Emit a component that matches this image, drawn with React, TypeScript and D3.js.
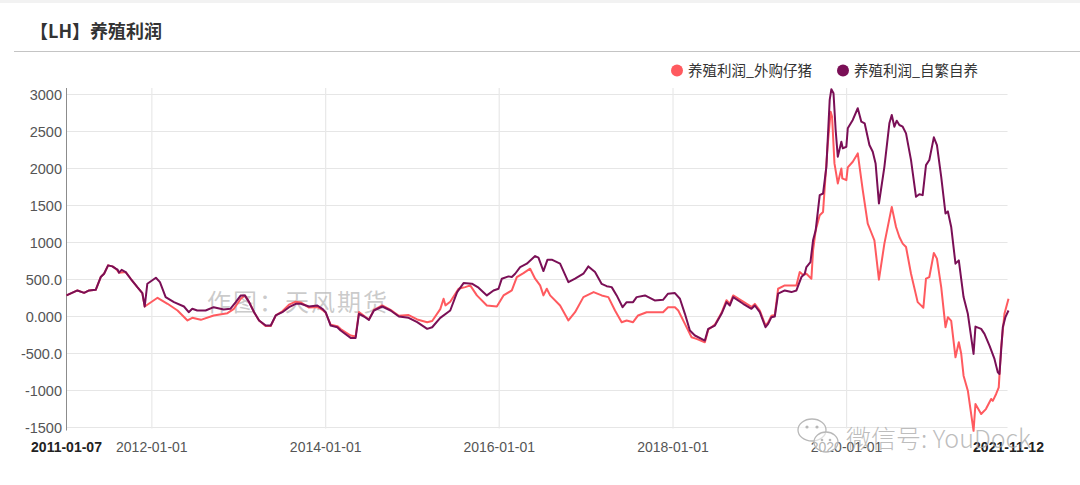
import React from 'react';
import * as d3 from 'd3';

// 养殖利润_自繁自养 (purple)
const selfBreeding: [string, number][] = [
  ['2011-01-07', 285], ['2011-02-22', 352], ['2011-03-22', 320], ['2011-04-12', 352],
  ['2011-05-10', 361], ['2011-05-31', 533], ['2011-06-14', 578], ['2011-07-01', 691],
  ['2011-07-19', 677], ['2011-08-02', 646], ['2011-08-10', 632], ['2011-08-16', 592],
  ['2011-08-27', 630], ['2011-09-13', 600], ['2011-10-04', 510], ['2011-11-01', 397],
  ['2011-11-22', 316], ['2011-12-02', 135], ['2011-12-13', 443], ['2012-01-18', 524],
  ['2012-02-04', 465], ['2012-02-28', 262], ['2012-04-03', 194], ['2012-05-15', 135],
  ['2012-06-04', 58], ['2012-06-19', 104], ['2012-07-10', 81], ['2012-08-14', 81],
  ['2012-09-17', 126], ['2012-10-29', 95], ['2012-11-26', 104], ['2012-12-19', 194],
  ['2013-01-09', 285], ['2013-01-26', 285], ['2013-02-13', 194], ['2013-03-06', 58],
  ['2013-03-27', -54], ['2013-04-24', -122], ['2013-05-15', -122], ['2013-06-05', 14],
  ['2013-07-03', 58], ['2013-07-31', 126], ['2013-08-28', 172], ['2013-09-18', 172],
  ['2013-10-23', 135], ['2013-11-27', 149], ['2013-12-18', 104], ['2014-01-01', 58],
  ['2014-01-22', -122], ['2014-02-19', -145], ['2014-03-05', -190], ['2014-04-16', -289],
  ['2014-05-07', -289], ['2014-05-21', 36], ['2014-06-11', 0], ['2014-07-02', -45],
  ['2014-07-23', 81], ['2014-08-27', 135], ['2014-10-01', 81], ['2014-11-05', 0],
  ['2014-12-16', -18], ['2015-01-21', -77], ['2015-03-04', -167], ['2015-03-25', -145],
  ['2015-04-28', -18], ['2015-06-09', 81], ['2015-07-08', 330], ['2015-08-04', 452],
  ['2015-09-08', 443], ['2015-10-06', 389], ['2015-11-10', 285], ['2015-12-08', 352],
  ['2015-12-29', 375], ['2016-01-12', 511], ['2016-02-09', 542], ['2016-02-23', 533],
  ['2016-03-08', 578], ['2016-03-29', 668], ['2016-04-26', 714], ['2016-05-31', 817],
  ['2016-06-14', 795], ['2016-07-05', 614], ['2016-07-22', 768], ['2016-08-09', 768],
  ['2016-09-13', 714], ['2016-10-18', 465], ['2016-11-15', 511], ['2016-12-20', 578],
  ['2017-01-10', 677], ['2017-02-07', 600], ['2017-03-07', 440], ['2017-03-28', 410],
  ['2017-04-18', 397], ['2017-05-09', 285], ['2017-06-03', 126], ['2017-06-20', 194],
  ['2017-07-17', 194], ['2017-08-01', 262], ['2017-09-05', 285], ['2017-10-16', 217],
  ['2017-11-20', 226], ['2017-12-11', 308], ['2018-01-09', 316], ['2018-01-30', 240],
  ['2018-02-20', 36], ['2018-03-13', -190], ['2018-04-03', -257], ['2018-05-15', -325],
  ['2018-05-29', -167], ['2018-06-26', -122], ['2018-07-24', 36], ['2018-08-14', 194],
  ['2018-08-28', 149], ['2018-09-11', 262], ['2018-10-23', 172], ['2018-11-27', 104],
  ['2018-12-11', 149], ['2019-01-01', 58], ['2019-01-25', -145], ['2019-02-05', -99],
  ['2019-02-19', -9], ['2019-03-05', 0], ['2019-03-19', 308], ['2019-04-16', 352],
  ['2019-05-14', 330], ['2019-06-04', 352], ['2019-06-25', 533], ['2019-07-09', 578],
  ['2019-07-16', 668], ['2019-08-02', 736], ['2019-08-13', 1030], ['2019-08-24', 1165],
  ['2019-09-10', 1640], ['2019-09-24', 1662], ['2019-10-08', 2023], ['2019-10-22', 2927],
  ['2019-10-29', 3072], ['2019-11-07', 3017], ['2019-11-16', 2520], ['2019-11-25', 2159],
  ['2019-12-10', 2362], ['2019-12-16', 2272], ['2019-12-31', 2294], ['2020-01-06', 2543],
  ['2020-01-27', 2656], ['2020-02-17', 2814], ['2020-03-03', 2633], ['2020-03-17', 2611],
  ['2020-04-06', 2317], ['2020-04-20', 2226], ['2020-05-02', 2069], ['2020-05-16', 1527],
  ['2020-06-08', 2023], ['2020-06-29', 2611], ['2020-07-09', 2724], ['2020-07-20', 2565],
  ['2020-07-30', 2646], ['2020-08-10', 2588], ['2020-08-24', 2565], ['2020-09-07', 2475],
  ['2020-09-28', 2114], ['2020-10-19', 1617], ['2020-11-02', 1653], ['2020-11-16', 1640],
  ['2020-11-30', 2046], ['2020-12-14', 2114], ['2021-01-02', 2421], ['2021-01-15', 2317],
  ['2021-02-02', 1888], ['2021-02-20', 1392], ['2021-03-02', 1420], ['2021-03-16', 1210],
  ['2021-04-03', 714], ['2021-04-17', 759], ['2021-05-07', 262], ['2021-05-25', 36],
  ['2021-06-18', -505], ['2021-06-26', -136], ['2021-07-20', -167], ['2021-08-03', -235],
  ['2021-08-24', -393], ['2021-09-14', -573], ['2021-09-28', -755], ['2021-10-05', -777],
  ['2021-10-19', -145], ['2021-10-30', -9], ['2021-11-12', 81],
];

// 养殖利润_外购仔猪 (red)
const boughtPiglets: [string, number][] = [
  ['2011-01-07', 285], ['2011-02-22', 352], ['2011-03-22', 320], ['2011-04-12', 352],
  ['2011-05-10', 361], ['2011-05-31', 533], ['2011-06-14', 578], ['2011-07-01', 691],
  ['2011-07-19', 677], ['2011-08-02', 646], ['2011-08-16', 592], ['2011-09-13', 600],
  ['2011-10-04', 510], ['2011-11-01', 397], ['2011-11-22', 316], ['2011-12-02', 135],
  ['2012-01-25', 253], ['2012-03-07', 172], ['2012-04-18', 81], ['2012-05-30', -54],
  ['2012-06-19', -18], ['2012-07-25', -45], ['2012-09-17', 14], ['2012-11-14', 45],
  ['2012-12-11', 104], ['2013-01-09', 240], ['2013-01-26', 285], ['2013-02-13', 194],
  ['2013-03-06', 58], ['2013-03-27', -54], ['2013-04-24', -130], ['2013-05-15', -130],
  ['2013-06-05', 14], ['2013-07-03', 70], ['2013-07-31', 160], ['2013-08-28', 200],
  ['2013-09-18', 190], ['2013-10-23', 120], ['2013-11-27', 130], ['2013-12-18', 90],
  ['2014-01-01', 50], ['2014-01-22', -110], ['2014-02-19', -130], ['2014-03-05', -170],
  ['2014-04-16', -257], ['2014-05-07', -270], ['2014-05-21', 60], ['2014-06-11', 10],
  ['2014-07-02', -40], ['2014-07-23', 90], ['2014-08-27', 150], ['2014-10-01', 90],
  ['2014-11-05', 10], ['2014-12-16', 20], ['2015-01-21', -40], ['2015-03-04', -77],
  ['2015-03-25', -60], ['2015-04-28', 100], ['2015-05-12', 240], ['2015-05-20', 150],
  ['2015-06-09', 200], ['2015-07-14', 375], ['2015-08-11', 397], ['2015-09-01', 420],
  ['2015-09-29', 285], ['2015-11-10', 149], ['2015-12-22', 135], ['2016-01-19', 285],
  ['2016-02-23', 352], ['2016-03-15', 533], ['2016-04-12', 587], ['2016-05-10', 646],
  ['2016-05-31', 511], ['2016-06-21', 420], ['2016-07-05', 285], ['2016-07-19', 375],
  ['2016-08-02', 285], ['2016-09-13', 149], ['2016-10-18', -54], ['2016-11-15', 58],
  ['2016-12-20', 262], ['2017-02-01', 330], ['2017-03-07', 285], ['2017-04-04', 262],
  ['2017-05-02', 81], ['2017-05-30', -77], ['2017-06-20', -54], ['2017-07-17', -77],
  ['2017-08-07', 14], ['2017-09-12', 58], ['2017-11-20', 58], ['2017-12-11', 126],
  ['2018-01-09', 126], ['2018-01-23', 81], ['2018-02-20', -99], ['2018-03-20', -280],
  ['2018-04-10', -303], ['2018-05-15', -348], ['2018-05-29', -180], ['2018-06-26', -110],
  ['2018-07-24', 50], ['2018-08-14', 220], ['2018-08-28', 170], ['2018-09-11', 285],
  ['2018-10-23', 200], ['2018-11-27', 130], ['2018-12-11', 170], ['2019-01-01', 80],
  ['2019-01-25', -122], ['2019-02-05', -80], ['2019-02-19', 10], ['2019-03-05', 20],
  ['2019-03-19', 375], ['2019-04-16', 420], ['2019-05-14', 420], ['2019-06-04', 420],
  ['2019-06-18', 600], ['2019-07-02', 560], ['2019-07-16', 578], ['2019-08-06', 511],
  ['2019-08-13', 894], ['2019-08-24', 1165], ['2019-09-10', 1369], ['2019-09-24', 1413],
  ['2019-10-13', 2294], ['2019-10-26', 2768], ['2019-11-01', 2700], ['2019-11-11', 2069],
  ['2019-11-25', 1798], ['2019-12-10', 2001], ['2019-12-14', 1866], ['2019-12-31', 1843],
  ['2020-01-06', 2015], ['2020-01-27', 2091], ['2020-02-17', 2204], ['2020-03-09', 1707],
  ['2020-03-30', 1256], ['2020-04-13', 1142], ['2020-04-27', 1030], ['2020-05-16', 497],
  ['2020-06-08', 985], ['2020-07-09', 1481], ['2020-07-27', 1210], ['2020-08-10', 1075],
  ['2020-08-24', 985], ['2020-09-07', 939], ['2020-09-28', 578], ['2020-10-26', 194],
  ['2020-11-09', 150], ['2020-11-19', 118], ['2020-11-30', 511], ['2020-12-14', 533],
  ['2021-01-02', 858], ['2021-01-15', 782], ['2021-02-02', 397], ['2021-02-20', -145],
  ['2021-03-02', -9], ['2021-03-16', -60], ['2021-04-03', -551], ['2021-04-17', -348],
  ['2021-04-27', -500], ['2021-05-07', -800], ['2021-05-25', -1003], ['2021-06-18', -1545],
  ['2021-06-26', -1183], ['2021-07-20', -1318], ['2021-08-09', -1251], ['2021-08-31', -1115],
  ['2021-09-07', -1140], ['2021-09-21', -1047], ['2021-10-02', -958], ['2021-10-12', -416],
  ['2021-10-26', 36], ['2021-11-12', 240],
];

const yTicks = [3000, 2500, 2000, 1500, 1000, 500, 0, -500, -1000, -1500];
const yTickLabels = ['3000', '2500', '2000', '1500', '1000', '500.0', '0.000', '-500.0', '-1000', '-1500'];
const xTicks = ['2012-01-01', '2014-01-01', '2016-01-01', '2018-01-01', '2020-01-01'];
const startDate = '2011-01-07';
const endDate = '2021-11-12';

const seriesNames = ['养殖利润_外购仔猪', '养殖利润_自繁自养'];
const seriesColors = ['#ff5a5f', '#7a0f56'];

const parse = d3.timeParse('%Y-%m-%d');
const font = 'Arial, "Liberation Sans", "Noto Sans CJK SC", sans-serif';
const cjk = '"Noto Sans CJK SC", "Microsoft YaHei", sans-serif';

export default function App() {
  const width = 1080;
  const height = 485;
  const left = 66.5;
  const right = 1008.5;
  const top = 94.5;
  const bottom = 427.5;

  const x = d3.scaleTime()
    .domain([parse(startDate)!, parse(endDate)!])
    .range([left, right]);
  const y = d3.scaleLinear().domain([-1500, 3000]).range([bottom, top]);

  const line = d3.line<[string, number]>()
    .x(d => x(parse(d[0])!))
    .y(d => y(d[1]));

  return (
    <div style={{ position: 'fixed', left: 0, top: 0 }}>
      <svg width={width} height={height} style={{ display: 'block', background: '#fff' }}>
        <rect x={0} y={0} width={width} height={3} fill="#f2f2f2" />
        <text x={30} y={38} fontFamily={cjk} fontSize={18} fontWeight="bold" fill="#333">
          【LH】养殖利润
        </text>
        <line x1={14} x2={width} y1={51.5} y2={51.5} stroke="#c4c4c4" strokeWidth={1} />

        {/* legend */}
        {seriesNames.map((name, i) => {
          const lx = i === 0 ? 677 : 843;
          return (
            <g key={name}>
              <circle cx={lx} cy={70.5} r={6} fill={seriesColors[i]} />
              <text x={lx + 11} y={75.5} fontFamily={cjk} fontSize={14.5} fill="#333">{name}</text>
            </g>
          );
        })}

        {/* grid */}
        {yTicks.map(t => (
          <line key={t} x1={left} x2={right - 1} y1={y(t)} y2={y(t)} stroke="#e6e6e6" strokeWidth={1.2} />
        ))}
        {xTicks.map(t => (
          <line key={t} x1={x(parse(t)!)} x2={x(parse(t)!)} y1={88} y2={bottom + 1} stroke="#e8e8e8" strokeWidth={1.2} />
        ))}
        <line x1={left} x2={left} y1={88} y2={bottom + 3} stroke="#8c8c8c" strokeWidth={1} />

        {/* y labels */}
        {yTicks.map((t, i) => (
          <text key={t} x={62} y={y(t)} dy="0.35em" textAnchor="end" fontFamily={font} fontSize={14.5} fill="#555">
            {yTickLabels[i]}
          </text>
        ))}

        {/* x labels */}
        {xTicks.map(t => (
          <text key={t} x={x(parse(t)!)} y={452} textAnchor="middle" fontFamily={font} fontSize={14} fill="#555">
            {t}
          </text>
        ))}
        <text x={left} y={452} textAnchor="middle" fontFamily={font} fontSize={14} fontWeight="bold" fill="#222">{startDate}</text>
        <text x={right} y={452} textAnchor="middle" fontFamily={font} fontSize={14} fontWeight="bold" fill="#222">{endDate}</text>

        {/* watermark */}
        <text x={207} y={311} fontFamily={cjk} fontSize={24} letterSpacing={2} fill="#b4b4b4" fillOpacity={0.7}>
          作图：天风期货
        </text>

        {/* lines */}
        <path d={line(boughtPiglets) ?? ''} fill="none" stroke={seriesColors[0]} strokeWidth={2} strokeLinejoin="round" />
        <path d={line(selfBreeding) ?? ''} fill="none" stroke={seriesColors[1]} strokeWidth={2} strokeLinejoin="round" />

        {/* wechat watermark */}
        <g fill="rgba(255,255,255,0.55)" stroke="#b8b8b8" strokeWidth={1.3}>
          <ellipse cx={812} cy={430} rx={14} ry={11} />
          <ellipse cx={826} cy={442} rx={12} ry={10} />
        </g>
        <g fill="#b8b8b8">
          <circle cx={807} cy={427} r={1.6} />
          <circle cx={817} cy={427} r={1.6} />
          <circle cx={822} cy={440} r={1.3} />
          <circle cx={830} cy={440} r={1.3} />
        </g>
        <text x={846} y={448} fontFamily={cjk} fontSize={25} fontWeight={300} fill="#a8a8a8" fillOpacity={0.75}>
          微信号: YouDock
        </text>
      </svg>
    </div>
  );
}
